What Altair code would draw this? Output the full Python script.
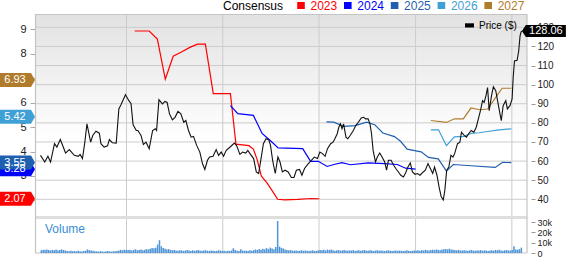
import altair as alt
import pandas as pd

FONT = "Liberation Sans"

# ---------------- data ----------------
price_dates = [
    "2021-02-09", "2021-02-25", "2021-03-09", "2021-03-19", "2021-04-03", "2021-04-12", "2021-04-25", "2021-05-15",
    "2021-05-29", "2021-06-17", "2021-07-02", "2021-07-09", "2021-07-18", "2021-07-27", "2021-08-04", "2021-08-18",
    "2021-08-26", "2021-09-07", "2021-09-20", "2021-09-26", "2021-10-08", "2021-10-21", "2021-10-28", "2021-11-08",
    "2021-11-23", "2021-12-03", "2021-12-11", "2021-12-28",
    "2022-01-10", "2022-01-18", "2022-01-26", "2022-02-07", "2022-02-13", "2022-02-25", "2022-03-06", "2022-03-16",
    "2022-03-28", "2022-04-10", "2022-04-20", "2022-04-25", "2022-05-04", "2022-05-17", "2022-05-27", "2022-06-04",
    "2022-06-13", "2022-06-24", "2022-07-04", "2022-07-15", "2022-07-26", "2022-08-06", "2022-08-14", "2022-08-24",
    "2022-09-03", "2022-09-12", "2022-09-24", "2022-10-06", "2022-10-16", "2022-10-25", "2022-11-04", "2022-11-12",
    "2022-11-25", "2022-12-07", "2022-12-16", "2022-12-26",
    "2023-01-04", "2023-01-14", "2023-01-30", "2023-02-14", "2023-02-22", "2023-03-07", "2023-03-17", "2023-03-29",
    "2023-04-06", "2023-04-16", "2023-04-28", "2023-05-08", "2023-05-17", "2023-05-27", "2023-06-04", "2023-06-14",
    "2023-06-24", "2023-07-01", "2023-07-09", "2023-07-19", "2023-07-29", "2023-08-06", "2023-08-15", "2023-08-25",
    "2023-09-06", "2023-09-18", "2023-09-28", "2023-10-07", "2023-10-19", "2023-10-28", "2023-11-07", "2023-11-19",
    "2023-12-01", "2023-12-14", "2023-12-26",
    "2024-01-04", "2024-01-14", "2024-01-24", "2024-02-02", "2024-02-14", "2024-02-23", "2024-03-01", "2024-03-10",
    "2024-03-16", "2024-03-22", "2024-03-28", "2024-04-03", "2024-04-12", "2024-04-19", "2024-04-28", "2024-05-10",
    "2024-05-19", "2024-05-29", "2024-06-09", "2024-06-18", "2024-06-26", "2024-07-05", "2024-07-12", "2024-07-18",
    "2024-07-24", "2024-08-02", "2024-08-09", "2024-08-18", "2024-08-27", "2024-09-06", "2024-09-13", "2024-09-20",
    "2024-09-30", "2024-10-10", "2024-10-18", "2024-10-28", "2024-11-06", "2024-11-16", "2024-11-24", "2024-12-03",
    "2024-12-12", "2024-12-20", "2024-12-30",
    "2025-01-08", "2025-01-18", "2025-01-30", "2025-02-07", "2025-02-17", "2025-02-26", "2025-03-07", "2025-03-14",
    "2025-03-23", "2025-03-31", "2025-04-08", "2025-04-16", "2025-04-22", "2025-04-29", "2025-05-07", "2025-05-15",
    "2025-05-23", "2025-05-29", "2025-06-09", "2025-06-18", "2025-06-24", "2025-07-04", "2025-07-13", "2025-07-21",
    "2025-07-31", "2025-08-10", "2025-08-19", "2025-08-27", "2025-09-04", "2025-09-12", "2025-09-18", "2025-09-25",
    "2025-10-01", "2025-10-07", "2025-10-16", "2025-10-23", "2025-11-01", "2025-11-09", "2025-11-17", "2025-11-22",
    "2025-11-29", "2025-12-09", "2025-12-15", "2025-12-25",
    "2026-01-02", "2026-01-06", "2026-01-11", "2026-01-21", "2026-01-27", "2026-02-01", "2026-02-05", "2026-02-08",
]
price_values = [
    63.0, 59.5, 62.5, 59.5, 69.1, 67.3, 71.3, 64.2, 66.0, 63.0, 62.5, 63.5, 61.3, 69.9, 79.5, 69.9,
    73.4, 75.6, 74.6, 69.1, 67.3, 68.0, 71.2, 69.6, 69.4, 87.3, 89.5, 94.7,
    91.6, 90.2, 79.0, 76.0, 76.0, 73.4, 68.7, 69.9, 66.5, 76.0, 76.9, 76.0, 92.1, 89.9, 91.2, 90.7,
    84.7, 81.6, 82.9, 86.0, 84.7, 80.3, 81.2, 76.0, 72.5, 72.9, 68.2, 64.7, 58.7, 55.6, 60.4, 62.1,
    62.5, 66.0, 63.0, 64.7,
    62.5, 65.6, 67.5, 69.4, 68.2, 63.5, 64.7, 64.2, 65.6, 63.5, 61.3, 54.3, 53.5, 62.1, 69.1, 71.7,
    71.2, 68.2, 60.4, 53.5, 62.1, 59.5, 54.3, 55.2, 54.3, 51.4, 51.4, 55.2, 55.6, 52.6, 56.1, 58.3,
    60.1, 62.1, 61.3,
    64.7, 63.9, 62.5, 66.5, 69.1, 69.9, 71.7, 74.3, 77.7, 79.5, 76.9, 79.5, 72.5, 71.7, 73.4, 76.0,
    78.6, 80.3, 82.6, 82.9, 82.1, 82.1, 79.5, 74.3, 65.6, 59.5, 62.1, 64.2, 62.1, 59.5, 55.2, 60.4,
    60.4, 57.8, 56.1, 54.3, 52.6, 51.7, 53.8, 56.9, 59.0, 54.3, 53.1,
    53.5, 52.6, 54.3, 55.2, 58.7, 56.1, 53.5, 56.9, 52.6, 46.5, 41.4, 39.6, 44.8, 55.2, 56.9, 63.0,
    62.1, 63.9, 69.1, 69.9, 75.1, 73.4, 72.5, 74.3, 76.0, 75.1, 77.7, 82.1, 86.4, 91.6, 90.7, 94.2,
    98.5, 86.4, 94.2, 98.9, 96.8, 90.7, 84.7, 81.2, 89.0, 91.6, 87.3, 89.0,
    92.5, 103.7, 112.4, 112.7, 117.6, 125.4, 127.6, 128.06,
]

years = ["2023", "2024", "2025", "2026", "2027"]
year_colors = ["#ff0000", "#0000ff", "#1f5faf", "#3fa0d6", "#b07c2c"]

eps_2023_dates = ["2022-02-01", "2022-03-28", "2022-04-28", "2022-05-28", "2022-06-27", "2022-07-30", "2022-08-29",
                  "2022-09-27", "2022-10-27", "2022-11-26", "2023-01-30", "2023-02-20", "2023-04-10", "2023-04-27",
                  "2023-05-12", "2023-05-27", "2023-06-19", "2023-07-12", "2023-07-28", "2023-08-24", "2023-10-12",
                  "2023-12-01", "2024-01-02"]
eps_2023_values = [8.93, 8.93, 8.6, 6.96, 7.9, 8.08, 8.26, 8.39, 8.39, 6.37, 6.37, 4.3, 4.24, 4.1, 3.65, 3.0,
                   2.7, 2.32, 2.05, 2.02, 2.04, 2.08, 2.07]

eps_2024_dates = ["2023-01-30", "2023-02-27", "2023-04-27", "2023-05-30", "2023-06-30", "2023-07-30", "2023-10-31",
                  "2023-11-30", "2023-12-29", "2024-02-01", "2024-03-01", "2024-03-28", "2024-04-29", "2024-07-05",
                  "2024-09-06", "2024-10-24", "2024-11-24", "2025-01-01"]
eps_2024_values = [5.88, 5.55, 5.48, 4.74, 4.45, 4.15, 4.12, 3.6, 3.6, 3.39, 3.48, 3.55, 3.46, 3.54, 3.51, 3.47,
                   3.32, 3.28]

eps_2025_dates = ["2024-01-29", "2024-02-26", "2024-04-03", "2024-05-17", "2024-06-29", "2024-07-30", "2024-08-30",
                  "2024-10-13", "2024-11-05", "2024-11-30", "2025-01-22", "2025-02-19", "2025-03-28", "2025-04-28",
                  "2025-05-24", "2025-07-30", "2025-10-30", "2025-11-27", "2025-12-30"]
eps_2025_values = [5.21, 5.2, 5.03, 5.06, 5.2, 5.1, 4.76, 4.61, 4.42, 4.1, 3.99, 3.76, 3.7, 3.2, 3.47, 3.42,
                   3.35, 3.56, 3.55]

eps_2026_dates = ["2025-02-28", "2025-03-29", "2025-04-28", "2025-05-28", "2025-07-04", "2025-07-30", "2025-08-30",
                  "2025-10-01", "2025-11-14", "2025-12-30"]
eps_2026_values = [4.89, 4.89, 4.24, 4.6, 4.62, 4.74, 4.77, 4.82, 4.89, 4.93]

eps_2027_dates = ["2025-02-28", "2025-04-28", "2025-05-28", "2025-07-01", "2025-07-30", "2025-09-01", "2025-10-01",
                  "2025-11-03", "2025-11-25", "2025-12-30"]
eps_2027_values = [5.27, 5.19, 5.34, 5.34, 5.78, 5.71, 5.74, 6.25, 6.59, 6.59]

flag_values = [2.07, 3.28, 3.55, 5.42, 6.93]
last_price_label = "128.06"

volume_start = "2021-02-12"
volume_k = [
    2.6, 3.1, 2.8, 3.4, 2.9, 2.5, 3.0, 2.7, 3.3, 2.4, 2.8, 3.6, 2.9, 2.5, 2.0, 1.8, 2.2, 1.7, 1.9, 1.6,
    2.1, 1.8, 1.5, 1.9, 2.3, 3.4, 2.8, 2.5, 2.1, 1.7, 1.6, 1.4, 1.8, 1.5, 1.3, 1.6, 1.9, 1.5, 1.4, 1.7,
    1.6, 2.0, 2.4, 3.0, 2.7, 3.2, 2.9,
    2.8, 3.2, 2.5, 3.0, 3.6, 2.7, 2.9, 3.3, 2.6, 3.1, 3.8, 3.4, 4.2, 4.8, 4.5, 5.1, 8.2, 12.4, 6.6, 4.9,
    4.1, 3.5, 3.8, 3.0, 2.6, 2.9, 2.4, 2.2, 2.7, 2.5, 2.1, 2.3, 2.8, 2.4, 2.0, 2.6, 2.2, 2.5, 2.9, 2.3,
    2.1, 2.4, 2.7, 2.2, 2.0, 2.5, 2.3, 1.9, 2.1, 2.6, 2.4, 2.0,
    2.1, 1.8, 2.3, 1.9, 2.5, 4.6, 2.8, 2.2, 2.0, 3.6, 2.4, 2.1, 2.3, 1.9, 2.6, 2.2, 2.8, 3.4, 2.9, 3.8,
    3.2, 4.1, 3.5, 4.8, 3.9, 5.2, 4.4, 3.6, 5.8, 31.0, 6.2, 5.1, 4.3, 3.5, 3.0, 2.6, 2.8, 2.4, 2.2, 2.5,
    2.0, 2.3, 2.7, 2.1, 2.4, 2.2, 1.9, 2.3, 2.6, 2.0, 2.2, 2.4,
    2.9, 2.6, 3.1, 2.4, 3.3, 2.8, 3.5, 2.7, 2.3, 2.6, 2.9, 2.2, 2.5, 3.0, 2.4, 2.1, 2.6, 2.3, 2.8, 2.0,
    2.4, 2.7, 2.2, 2.5, 2.9, 2.3, 2.1, 2.6, 2.4, 2.0, 2.3, 2.7, 2.2, 2.5, 2.1, 1.9, 2.4, 2.6, 2.2, 2.0,
    2.3, 2.5, 2.1, 2.4, 2.2, 2.0, 2.3, 2.6, 2.1, 1.9, 2.2, 2.4,
    2.3, 2.6, 2.2, 2.8, 2.5, 3.1, 2.7, 2.4, 2.9, 3.2, 2.8, 3.4, 3.0, 2.7, 3.3, 3.6, 3.9, 3.5, 4.2, 3.4,
    3.1, 2.8, 2.6, 3.0, 2.5, 2.3, 2.7, 2.4, 2.2, 2.6, 2.9, 2.3, 2.1, 2.5, 2.4, 2.8, 2.2, 2.6, 2.3, 2.0,
    2.5, 2.7, 2.3, 2.9, 2.6, 3.1, 2.4, 2.2, 2.6, 2.8, 2.5, 2.3,
    3.0, 6.6, 3.4, 3.2, 3.8, 5.2,
]

year_ticks = [2022, 2023, 2024, 2025, 2026]
price_ticks = [40, 50, 60, 70, 80, 90, 100, 110, 120, 130]
eps_ticks = [2, 3, 4, 5, 6, 7, 8, 9]
volume_ticks = [0, 10, 20, 30]

# ---------------- tables ----------------
price_df = pd.DataFrame({"d": price_dates, "p": price_values})
eps_df = pd.concat([
    pd.DataFrame({"d": d, "v": v, "yr": y})
    for d, v, y in [
        (eps_2023_dates, eps_2023_values, "2023"),
        (eps_2024_dates, eps_2024_values, "2024"),
        (eps_2025_dates, eps_2025_values, "2025"),
        (eps_2026_dates, eps_2026_values, "2026"),
        (eps_2027_dates, eps_2027_values, "2027"),
    ]
], ignore_index=True)
flag_df = pd.DataFrame({"yr": years, "v": flag_values, "lbl": [f"{v:.2f}" for v in flag_values]})
last_df = pd.DataFrame({"d": [price_dates[-1]], "p": [price_values[-1]], "lbl": [last_price_label]})
vol_dates = pd.date_range(volume_start, periods=len(volume_k), freq="7D").strftime("%Y-%m-%d").tolist()
vol_df = pd.DataFrame({"d": vol_dates, "v": volume_k})
ygrid_df = pd.DataFrame({"d": [f"{y}-01-01" for y in year_ticks]})
pgrid_df = pd.DataFrame({"p": price_ticks})
one = pd.DataFrame({"a": [0]})

# ---------------- layout ----------------
W, H = 492, 239
PH = 203
VT = 205

x_scale = alt.Scale(type="utc", domain=[
    alt.DateTime(year=2021, month=2, date=7, utc=True),
    alt.DateTime(year=2026, month=2, date=8, hours=12, utc=True),
])
price_scale = alt.Scale(domain=[30.74, 136.96], range=[PH, 0], nice=False, zero=False)
eps_scale = alt.Scale(domain=[1.323, 9.626], range=[PH, 0], nice=False, zero=False)
vol_scale = alt.Scale(domain=[0, 33], range=[H, VT], nice=False)
year_color_scale = alt.Scale(domain=years, range=year_colors)

GRID = "#cccccc"
FRAME = "#c4c4c4"

bg = alt.Chart(one).mark_rect(
    color=alt.LinearGradient(
        gradient="linear", x1=0, x2=0, y1=0, y2=1,
        stops=[alt.GradientStop(offset=0, color="#e2e2e2"), alt.GradientStop(offset=0.62, color="#ffffff")],
    )
).encode(x=alt.value(0), x2=alt.value(W), y=alt.value(0), y2=alt.value(PH))

hgrid = alt.Chart(pgrid_df).mark_rule(color=GRID, strokeWidth=1).encode(
    y=alt.Y("p:Q", scale=price_scale, axis=None), x=alt.value(0), x2=alt.value(W)
)
vgrid = alt.Chart(ygrid_df).mark_rule(color=GRID, strokeWidth=1).encode(
    x=alt.X("d:T", scale=x_scale, axis=None), y=alt.value(0), y2=alt.value(H)
)

top_border = alt.Chart(one).mark_rule(color=FRAME, strokeWidth=1).encode(
    x=alt.value(0), x2=alt.value(W), y=alt.value(0.5))
bottom_border = alt.Chart(one).mark_rule(color=FRAME, strokeWidth=1).encode(
    x=alt.value(0), x2=alt.value(W), y=alt.value(H))
left_border = alt.Chart(one).mark_rule(color=FRAME, strokeWidth=1.2).encode(
    x=alt.value(0.5), y=alt.value(0), y2=alt.value(H))
right_border = alt.Chart(one).mark_rule(color=FRAME, strokeWidth=1.2).encode(
    x=alt.value(W), y=alt.value(0), y2=alt.value(H))
separator = alt.Chart(one).mark_rect(color="#dedede").encode(
    x=alt.value(0), x2=alt.value(W), y=alt.value(PH - 1), y2=alt.value(VT))

eps_lines = alt.Chart(eps_df).mark_line(strokeWidth=1.2).encode(
    x=alt.X("d:T", scale=x_scale, axis=None),
    y=alt.Y("v:Q", scale=eps_scale, axis=alt.Axis(
        orient="left", values=eps_ticks, grid=False, domain=False, tickSize=5, tickColor="#aaaaaa",
        labelPadding=4, labelFontSize=11, labelFont=FONT, labelColor="#222222", title=None)),
    stroke=alt.Stroke("yr:N", scale=year_color_scale, legend=None),
)

price_line = alt.Chart(price_df).mark_line(color="#111111", strokeWidth=1.1).encode(
    x=alt.X("d:T", scale=x_scale, axis=None),
    y=alt.Y("p:Q", scale=price_scale, axis=alt.Axis(
        orient="right", values=price_ticks, grid=False, domain=False, tickSize=4, tickColor="#999999",
        offset=4, labelPadding=2, labelFontSize=10, labelFont=FONT, labelColor="#222222", title=None)),
)

vol_bars = alt.Chart(vol_df).mark_bar(width=1.5, color="#4d94d8").encode(
    x=alt.X("d:T", scale=x_scale, axis=alt.Axis(
        values=[alt.DateTime(year=y, month=1, date=1, utc=True) for y in year_ticks], format="%Y",
        ticks=False, domain=False, grid=False, labelPadding=1, labelFontSize=11, labelFont=FONT,
        labelColor="#222222", labelFlush=False, title=None)),
    y=alt.Y("v:Q", scale=vol_scale, axis=alt.Axis(
        orient="right", values=volume_ticks, grid=False, domain=False, tickSize=4, tickColor="#999999",
        offset=4, labelPadding=2, labelFontSize=9, labelFont=FONT, labelColor="#222222",
        labelExpr="datum.value == 0 ? '0' : datum.value + 'k'", title=None)),
)

vol_label = alt.Chart(one).mark_text(
    text="Volume", align="left", baseline="middle", fontSize=12, font=FONT, color="#3a8dd6"
).encode(x=alt.value(10), y=alt.value(215))

flags = alt.Chart(flag_df).mark_point(
    shape="M-35,-7L-4,-7L0,0L-4,7L-35,7Z", size=4, filled=True, opacity=1, strokeWidth=0
).encode(
    x=alt.value(0),
    y=alt.Y("v:Q", scale=eps_scale, axis=None),
    fill=alt.Fill("yr:N", scale=year_color_scale, legend=None),
)
flag_txt = alt.Chart(flag_df).mark_text(
    color="white", fontSize=11, font=FONT, align="center", baseline="middle"
).encode(x=alt.value(-20), y=alt.Y("v:Q", scale=eps_scale, axis=None), text="lbl:N")

pflag = alt.Chart(last_df).mark_point(
    shape="M0,0L4,-6L44,-6L44,6L4,6Z", size=4, filled=True, opacity=1, strokeWidth=0, color="#000000"
).encode(x=alt.X("d:T", scale=x_scale, axis=None), y=alt.Y("p:Q", scale=price_scale, axis=None))
pflag_txt = alt.Chart(last_df).mark_text(
    color="white", fontSize=11, font=FONT, align="center", baseline="middle", dx=24
).encode(x=alt.X("d:T", scale=x_scale, axis=None), y=alt.Y("p:Q", scale=price_scale, axis=None), text="lbl:N")

# ---- legends (drawn as annotations) ----
LEG_Y = -8
LEG_X0 = 266      # centre of first swatch
LEG_STEP = 46.8
legend_layers = [
    alt.Chart(one).mark_text(
        text="Consensus", align="left", baseline="middle", fontSize=12, font=FONT, color="#000000"
    ).encode(x=alt.value(188), y=alt.value(LEG_Y))
]
for i, (yr, col) in enumerate(zip(years, year_colors)):
    cx = LEG_X0 + LEG_STEP * i
    legend_layers.append(
        alt.Chart(one).mark_rect(color=col).encode(
            x=alt.value(cx - 3.8), x2=alt.value(cx + 3.8), y=alt.value(LEG_Y - 4), y2=alt.value(LEG_Y + 3))
    )
    legend_layers.append(
        alt.Chart(one).mark_text(
            text=yr, align="left", baseline="middle", fontSize=12, font=FONT, color=col
        ).encode(x=alt.value(cx + 9.5), y=alt.value(LEG_Y))
    )

price_leg_rect = alt.Chart(one).mark_rect(color="#000000").encode(
    x=alt.value(430), x2=alt.value(439), y=alt.value(9.3), y2=alt.value(13.5))
price_leg_txt = alt.Chart(one).mark_text(
    text="Price ($)", align="left", baseline="middle", fontSize=10, font=FONT, color="#000000"
).encode(x=alt.value(444), y=alt.value(11.6))

chart = alt.layer(
    bg, hgrid, vgrid, separator, top_border, bottom_border, left_border, right_border,
    eps_lines, price_line, vol_bars, vol_label,
    flags, flag_txt, pflag, pflag_txt, price_leg_rect, price_leg_txt, *legend_layers,
).resolve_scale(y="independent").properties(
    width=W, height=H,
    padding={"left": 35, "top": 14, "right": 46, "bottom": 11},
    autosize=alt.AutoSizeParams(type="none"),
).configure_view(strokeWidth=0)

chart.save("out.html", embed_options={"renderer": "svg", "actions": False})
